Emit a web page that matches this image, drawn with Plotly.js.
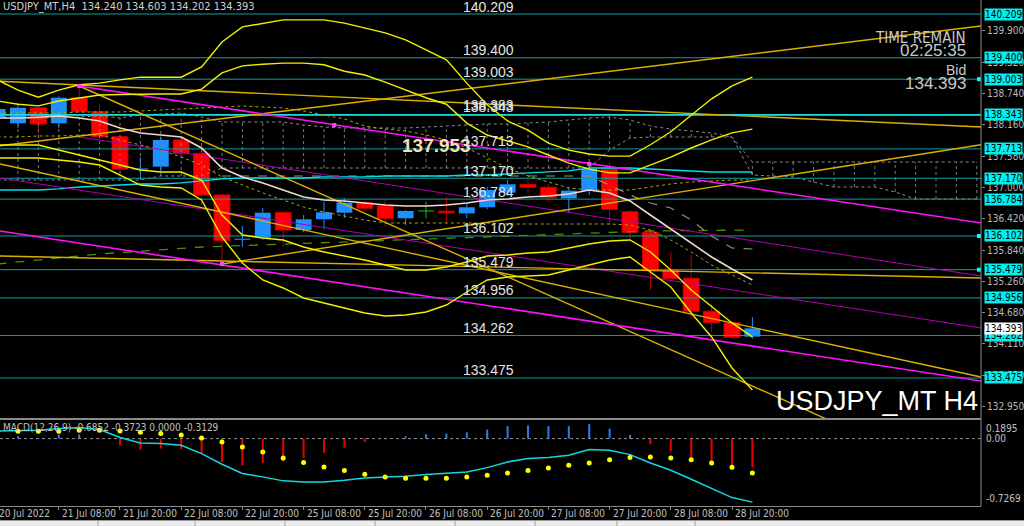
<!DOCTYPE html>
<html><head><meta charset="utf-8">
<script src="https://cdn.plot.ly/plotly-3.0.1.min.js"></script>
<style>html,body{margin:0;padding:0;background:#000;overflow:hidden}#chart{width:1024px;height:526px}</style>
</head><body><div id="chart"></div>
<script>
// ---------- DATA (H4 bars; bar index -1 = 20 Jul 20:00 ... 36 = 29 Jul 00:00) ----------
const open  = [138.29,138.187,138.475,138.187,138.660,138.401,137.939,137.341,137.384,137.878,137.632,136.860,136.041,136.070,136.533,136.213,136.411,136.533,136.718,136.657,136.429,136.564,136.560,136.520,136.633,136.903,137.058,137.003,136.799,136.940,137.341,136.550,136.170,135.473,135.320,134.709,134.498,134.240];
const high  = [138.50,138.56,138.50,138.69,138.84,138.544,137.96,137.563,137.94,137.94,137.70,136.897,136.287,136.620,136.56,136.49,136.736,136.805,136.75,136.768,136.58,136.736,136.829,136.707,137.014,137.138,137.151,137.058,137.014,137.434,137.458,136.583,136.20,135.811,135.75,134.843,134.54,134.603];
const low   = [138.22,138.10,138.007,138.10,138.37,137.90,137.30,137.138,137.291,137.60,136.675,135.565,135.904,136.03,135.904,136.17,136.226,136.435,136.56,136.274,136.305,136.43,136.337,136.429,136.60,136.842,136.89,136.736,136.533,136.86,136.305,136.041,135.103,135.25,134.579,134.331,134.19,134.202];
const close = [138.45,138.475,138.174,138.660,138.401,137.939,137.341,137.345,137.878,137.632,136.860,136.015,136.045,136.533,136.213,136.411,136.540,136.718,136.614,136.429,136.564,136.564,136.530,136.633,136.953,137.058,137.003,136.810,136.940,137.341,136.596,136.170,135.473,135.312,134.709,134.498,134.228,134.393];

const bbUpOuter = [138.99,138.80,138.67,138.80,138.90,138.93,138.99,139.04,139.04,139.04,139.23,139.69,139.97,140.04,140.10,140.10,140.10,140.04,139.95,139.86,139.73,139.54,139.36,138.93,138.53,138.23,138.06,137.82,137.69,137.62,137.58,137.58,137.79,138.03,138.34,138.64,138.88,139.04];
const bbUpInner = [138.60,138.54,138.51,138.60,138.655,138.71,138.72,138.73,138.73,138.73,138.82,139.12,139.25,139.28,139.30,139.30,139.27,139.15,139.08,138.95,138.80,138.66,138.54,138.19,137.97,137.86,137.75,137.60,137.45,137.34,137.27,137.27,137.42,137.56,137.73,137.88,138.01,138.08];
const bbLowInner = [137.785,137.785,137.785,137.693,137.60,137.508,137.415,137.323,137.286,137.286,137.138,136.49,136.12,136.065,136.028,135.898,135.806,135.732,135.658,135.565,135.473,135.473,135.528,135.62,135.732,135.75,135.788,135.806,135.88,135.954,136.01,136.028,135.806,135.473,135.103,134.789,134.493,134.234];
const bbLowOuter = [137.545,137.545,137.545,137.508,137.471,137.415,137.23,137.045,137.008,136.99,136.768,136.083,135.602,135.288,135.14,134.955,134.862,134.77,134.677,134.622,134.64,134.696,134.825,135.066,135.288,135.343,135.362,135.38,135.473,135.565,135.658,135.713,135.436,135.158,134.677,134.234,133.66,133.253];
const maPink = [138.285,138.285,138.30,138.322,138.285,138.23,138.10,138.008,137.97,137.934,137.73,137.36,137.194,137.083,136.953,136.824,136.768,136.75,136.713,136.676,136.657,136.657,136.676,136.713,136.768,136.787,136.824,136.842,136.879,136.953,136.898,136.75,136.49,136.232,135.973,135.713,135.491,135.288];
const cyanLine = [136.953,136.953,136.953,136.972,137.008,137.027,137.045,137.064,137.064,137.083,137.12,137.157,137.175,137.175,137.175,137.175,137.194,137.194,137.194,137.212,137.212,137.212,137.212,137.23,137.23,137.249,137.268,137.286,137.305,137.36,137.36,137.36,137.341,137.323,137.305,137.286,137.286,137.286];
const envUpper = [138.378,138.378,138.378,138.378,138.396,138.396,138.396,138.415,138.433,138.452,138.47,138.489,138.507,138.489,138.47,138.415,138.341,138.267,138.137,138.082,138.045,137.971,137.878,137.73,137.545,137.36,137.212,137.101,136.99,136.953,136.953,136.953,137.008,137.064,137.101,137.12,137.138,137.138];
const envLower = [137.934,137.934,137.952,137.952,137.971,137.971,137.878,137.785,137.693,137.563,137.415,137.194,137.045,136.898,136.768,136.639,136.546,136.472,136.398,136.342,136.342,136.342,136.342,136.342,136.342,136.324,136.324,136.324,136.324,136.324,136.324,136.305,136.213,136.028,135.806,135.565,135.38,135.195];
const tanStartBar = 10;
const tanDashed = [137.212,137.212,137.212,137.212,137.212,137.212,137.212,137.212,137.212,137.212,137.212,137.212,137.212,137.212,137.212,137.212,137.212,137.212,137.212,137.045,136.86,136.712,136.62,136.398,136.102,135.88,135.861];
const greenMaBars = [-1,4,9,16,22,31,36];
const greenMa = [135.584,135.769,135.898,135.991,136.083,136.194,136.213];
// ichimoku-style cloud, bar -1 .. 47
const cloudUpper = [138.285,138.285,138.285,138.285,138.303,138.322,138.285,138.340,138.359,138.377,138.303,138.211,138.211,138.211,138.211,138.155,138.118,138.100,138.100,138.100,138.100,138.118,138.137,138.155,138.174,138.174,138.192,138.211,138.248,138.285,138.303,138.248,138.137,138.081,138.044,138.007,137.933,137.471,137.471,137.471,137.471,137.471,137.471,137.471,137.471,137.471,137.471,137.471,137.471];
const cloudLower = [137.138,137.138,137.138,137.138,137.138,137.138,137.138,137.138,137.212,137.212,137.212,137.36,137.36,137.36,137.36,137.36,137.36,137.36,137.36,137.36,137.36,137.36,137.36,137.36,137.36,137.36,137.36,137.36,137.36,137.36,137.693,137.915,137.933,137.933,137.933,137.933,137.933,137.23,137.212,137.193,137.101,137.008,137.008,137.008,136.916,136.786,136.786,136.786,136.786];

// trend lines: start bar/price -> end bar/price
const goldRayBar0 = [-0.882,-0.882,10,-0.882,-0.882,3];
const goldRayP0   = [137.771,138.964,135.584,135.732,137.434,138.877];
const goldRayBar1 = [47.206,47.206,47.206,47.206,47.206,41];
const goldRayP1   = [139.987,138.118,137.789,135.325,133.493,132.485];
const magRayBar0 = [3,-0.882];
const magRayP0   = [138.877,136.194];
const magRayBar1 = [47.206,47.206];
const magRayP1   = [136.342,133.419];
const purpleRayBar0 = [3.04,-0.882];
const purpleRayP0   = [137.933,137.175];
const purpleRayBar1 = [47.206,47.206];
const purpleRayP1   = [135.362,134.400];
const anchorBars = [3,15.5,28,10];
const anchorPrices = [138.877,138.155,137.434,135.584];

const levels = [140.209,139.400,139.003,138.343,137.713,137.170,136.784,136.102,135.479,134.956,134.262,133.475];
const levelLabels = ['140.209','139.400','139.003','138.343','137.713','137.170','136.784','136.102','135.479','134.956','134.262','133.475'];
const extraLabelPrice = 138.383, extraLabel = '138.383';
const markedLevels = [139.003,136.102,135.479];
const bidPrice = 134.393;

const macdMain = [0.08,0.082,0.089,0.108,0.119,0.097,0.011,-0.047,-0.054,-0.072,-0.162,-0.277,-0.377,-0.413,-0.456,-0.467,-0.467,-0.449,-0.424,-0.413,-0.406,-0.388,-0.377,-0.360,-0.313,-0.252,-0.215,-0.205,-0.180,-0.119,-0.126,-0.173,-0.263,-0.342,-0.439,-0.539,-0.636,-0.6852];
const macdSignal = [0.079,0.079,0.079,0.079,0.090,0.090,0.082,0.068,0.054,0.039,0.006,-0.037,-0.091,-0.145,-0.209,-0.259,-0.306,-0.345,-0.385,-0.414,-0.428,-0.428,-0.428,-0.414,-0.396,-0.371,-0.345,-0.317,-0.288,-0.263,-0.227,-0.205,-0.198,-0.209,-0.227,-0.263,-0.310,-0.3723];
const macdHist = [0.0,0.025,0.005,0.045,0.045,-0.01,-0.072,-0.119,-0.108,-0.115,-0.162,-0.252,-0.288,-0.263,-0.245,-0.209,-0.155,-0.097,-0.036,-0.007,0.025,0.047,0.054,0.068,0.097,0.133,0.140,0.133,0.133,0.155,0.108,0.040,-0.061,-0.137,-0.252,-0.28,-0.31,-0.3129];

const timeTickBars = [2,5,8,11,14,17,20,23,26,29,32,35];
const timeTickLabels = ['21 Jul 08:00','21 Jul 20:00','22 Jul 08:00','22 Jul 20:00','25 Jul 08:00','25 Jul 20:00','26 Jul 08:00','26 Jul 20:00','27 Jul 08:00','27 Jul 20:00','28 Jul 08:00','28 Jul 20:00'];
const firstDateLabel = '20 Jul 2022';
const priceTicks = [139.900,139.320,138.740,138.160,137.580,137.000,136.420,135.840,135.260,134.680,134.110,133.530,132.950];
const macdTickVals = [0.1895,0.0,-0.7269];
const macdTickLabels = ['0.1895','0.00','-0.7269'];

// ---------- BUILD ----------
const NARROW = '"Liberation Sans Narrow","Arial Narrow","DejaVu Sans Condensed",sans-serif';
const SANS = '"Liberation Sans",Arial,sans-serif';
const XMIN = -0.882, XMAX = 47.206;
const bars = open.map((_, i) => i - 1);
const cloudBars = cloudUpper.map((_, i) => i - 1);
const HALF = 0.39;

const BULL = '#1e90ff', BEAR = '#ff0000', BEARW = '#b80000', DOJI = '#10c010';
const traces = [];

const bullX=[],bullB=[],bullH=[],bearX=[],bearB=[],bearH=[];
bars.forEach((k,i)=>{
  const o=open[i], c=close[i];
  if (Math.abs(c-o) < 0.01) return;
  if (c>o){bullX.push(k);bullB.push(o);bullH.push(c-o);} else {bearX.push(k);bearB.push(c);bearH.push(o-c);}
});
traces.push({type:'bar',x:bullX,y:bullH,base:bullB,width:0.78,marker:{color:BULL,line:{width:0}},xaxis:'x',yaxis:'y',hoverinfo:'skip'});
traces.push({type:'bar',x:bearX,y:bearH,base:bearB,width:0.78,marker:{color:BEAR,line:{color:'#d00000',width:1}},xaxis:'x',yaxis:'y',hoverinfo:'skip'});
function wickTrace(filter,color){
  const xs=[],ys=[];
  bars.forEach((k,i)=>{
    if(!filter(i))return;
    const top=Math.max(open[i],close[i]),bot=Math.min(open[i],close[i]);
    xs.push(k,k,null,k,k,null);ys.push(high[i],top,null,bot,low[i],null);
    if(Math.abs(close[i]-open[i])<0.01){xs.push(k-HALF,k+HALF,null);ys.push(open[i],open[i],null);}
  });
  return {type:'scatter',mode:'lines',x:xs,y:ys,line:{color:color,width:1},hoverinfo:'skip'};
}
traces.push(wickTrace(i=>close[i]>open[i],BULL));
traces.push(wickTrace(i=>close[i]<open[i],BEARW));
traces.push(wickTrace(i=>close[i]===open[i],DOJI));

function line(xs,ys,color,width,dash,ya){
  return {type:'scatter',mode:'lines',x:xs,y:ys,line:{color:color,width:width,dash:dash||'solid'},yaxis:ya||'y',hoverinfo:'skip'};
}
const hx=[],hy=[];
cloudBars.forEach((k,i)=>{hx.push(k,k,null);hy.push(cloudLower[i],cloudUpper[i],null);});
traces.push(line(hx,hy,'#7a7a7a',1,'dot'));
traces.push(line(cloudBars,cloudUpper,'#8a8a8a',1,'dot'));
traces.push(line(cloudBars,cloudLower,'#8a8a8a',1,'dot'));

const lx=[],ly=[];
levels.forEach(v=>{lx.push(XMIN,XMAX,null);ly.push(v,v,null);});
traces.push(line(lx,ly,'#139e9e',1));
traces.push(line([XMIN,XMAX],[levels[3],levels[3]],'#18d8d8',1.6));

traces.push(line(bars,envUpper,'#a8a800',1,'dot'));
traces.push(line(bars,envLower,'#a8a800',1,'dot'));
traces.push(line(greenMaBars,greenMa,'#4f8f00',1.3,'dash'));
traces.push(line(tanDashed.map((_,i)=>i+tanStartBar),tanDashed,'#a08a78',1.2,'dash'));
traces.push(line(bars,cyanLine,'#00e0e8',1.3));

function rays(b0,p0,b1,p1,color,width){
  const xs=[],ys=[];
  b0.forEach((_,i)=>{xs.push(b0[i],b1[i],null);ys.push(p0[i],p1[i],null);});
  return line(xs,ys,color,width);
}
traces.push(rays(purpleRayBar0,purpleRayP0,purpleRayBar1,purpleRayP1,'#b000b0',1));
traces.push(rays(goldRayBar0,goldRayP0,goldRayBar1,goldRayP1,'#dcb000',1.4));
traces.push(rays(magRayBar0,magRayP0,magRayBar1,magRayP1,'#ff10ff',1.6));

[bbUpOuter,bbUpInner,bbLowInner,bbLowOuter].forEach(a=>traces.push(line(bars,a,'#f0f000',1.4)));
traces.push(line(bars,maPink,'#f2d8cc',1.6));

traces.push({type:'scatter',mode:'markers',x:anchorBars,y:anchorPrices,marker:{symbol:'square',size:4,color:'#ff40ff'},hoverinfo:'skip'});
traces.push({type:'scatter',mode:'markers',x:markedLevels.map(()=>XMAX-0.1),y:markedLevels,marker:{symbol:'square',size:4,color:'#00ffff'},hoverinfo:'skip'});

const hp=[],hpx=[],hn=[],hnx=[];
bars.forEach((k,i)=>{ if(macdHist[i]>=0){hpx.push(k);hp.push(macdHist[i]);} else {hnx.push(k);hn.push(macdHist[i]);} });
traces.push({type:'bar',x:hpx,y:hp,width:0.1,marker:{color:'#2080f0',line:{width:0}},yaxis:'y2',hoverinfo:'skip'});
traces.push({type:'bar',x:hnx,y:hn,width:0.1,marker:{color:'#e80000',line:{width:0}},yaxis:'y2',hoverinfo:'skip'});
traces.push(line([XMIN,XMAX],[0,0],'#909090',1,'dot','y2'));
traces.push(line(bars,macdMain,'#10d8e0',1.5,'solid','y2'));
traces.push({type:'scatter',mode:'markers',x:bars,y:macdSignal,marker:{size:5,color:'#ffff00'},yaxis:'y2',hoverinfo:'skip'});

// ---------- ANNOTATIONS ----------
const H = 506, W = 981;
const px = x => x / W, py = y => (H - y) / H;
const ann = [];
function txt(x,y,text,size,color,family,xanchor,extra){ann.push(Object.assign({xref:'paper',yref:'paper',x:x,y:y,text:text,showarrow:false,xanchor:xanchor||'left',yanchor:'middle',font:{size:size,color:color,family:family}},extra||{}));}
txt(px(1),py(6),'USDJPY_MT,H4\u00a0\u00a0134.240 134.603 134.202 134.393',11,'#d0d0d0',NARROW,'left');
txt(px(1),py(427),'MACD(12,26,9) -0.6852 -0.3723 0.0000 -0.3129',10,'#c0c0c0',NARROW,'left');
levels.forEach((v,i)=>ann.push({xref:'paper',yref:'y',x:px(488),y:v,yshift:7.5,text:levelLabels[i],showarrow:false,xanchor:'center',yanchor:'middle',font:{size:14,color:'#e4e4e4',family:SANS}}));
ann.push({xref:'paper',yref:'y',x:px(488),y:extraLabelPrice,yshift:7.5,text:extraLabel,showarrow:false,xanchor:'center',yanchor:'middle',font:{size:14,color:'#e4e4e4',family:SANS}});
txt(px(436),py(145),'<b>137.953</b>',19,'#f5deb3',SANS,'center');
txt(px(968),py(38),'TIME REMAIN',15,'#c8c8c8',NARROW,'right');
txt(px(968),py(51),'02:25:35',17,'#c8c8c8',SANS,'right');
txt(px(968),py(70),'Bid',14,'#c8c8c8',SANS,'right');
txt(px(968),py(83),'134.393',17,'#c8c8c8',SANS,'right');
txt(px(980),py(401),'USDJPY_MT H4',27,'#ffffff',SANS,'right');
levels.forEach((v,i)=>ann.push({xref:'paper',yref:'y',x:1,xshift:3,y:v,text:levelLabels[i],showarrow:false,xanchor:'left',yanchor:'middle',bgcolor:'#00f0f0',borderpad:0,font:{size:10,color:'#000',family:NARROW}}));
ann.push({xref:'paper',yref:'y',x:1,xshift:3,y:bidPrice,text:bidPrice.toFixed(3),showarrow:false,xanchor:'left',yanchor:'middle',bgcolor:'#ffffff',borderpad:0,font:{size:10,color:'#000',family:NARROW}});
macdTickVals.forEach((v,i)=>ann.push({xref:'paper',yref:'y2',x:1,xshift:3,y:v,text:macdTickLabels[i],showarrow:false,xanchor:'left',yanchor:i===0?'top':(i===2?'bottom':'middle'),font:{size:10,color:'#c0c0c0',family:NARROW}}));
ann.push({xref:'paper',yref:'paper',x:0,xshift:-3,y:py(513),text:firstDateLabel,showarrow:false,xanchor:'left',yanchor:'middle',font:{size:10,color:'#c0c0c0',family:NARROW}});
timeTickBars.forEach((b,i)=>ann.push({xref:'x',yref:'paper',x:b,xshift:1,y:py(513),text:timeTickLabels[i],showarrow:false,xanchor:'left',yanchor:'middle',font:{size:10,color:'#c0c0c0',family:NARROW}}));

// ---------- SHAPES (frame) ----------
const shapes = [
  {type:'line',xref:'paper',yref:'paper',x0:0,x1:1,y0:py(419),y1:py(419),line:{color:'#8a8a8a',width:2}},
  {type:'line',xref:'paper',yref:'paper',x0:1,x1:1,y0:0,y1:1,line:{color:'#8a8a8a',width:1}},
  {type:'rect',xref:'paper',yref:'paper',x0:0,x1:1024/W,y0:py(520),y1:py(527),fillcolor:'#ececec',line:{width:0}},
  {type:'line',xref:'paper',yref:'paper',x0:0,x1:1024/W,y0:py(520.5),y1:py(520.5),line:{color:'#9a9a9a',width:1}}
];
[98,195,285,375,455,535,617,695].forEach(x=>shapes.push({type:'line',xref:'paper',yref:'paper',x0:px(x),x1:px(x),y0:py(521),y1:py(527),line:{color:'#a0a0a0',width:1}}));

const layout = {
  width:1024,height:526,margin:{l:0,r:43,t:0,b:20,pad:0},
  paper_bgcolor:'#000',plot_bgcolor:'#000',showlegend:false,hovermode:false,barmode:'overlay',
  xaxis:{range:[XMIN,XMAX],anchor:'y2',showgrid:false,zeroline:false,showline:true,linecolor:'#8a8a8a',linewidth:1,
    tickvals:timeTickBars,ticks:'outside',ticklen:3,tickcolor:'#8a8a8a',showticklabels:false,fixedrange:true},
  yaxis:{domain:[py(419),1],range:[132.716,140.468],side:'right',showgrid:false,zeroline:false,showline:false,
    tickvals:priceTicks,ticktext:priceTicks.map(v=>v.toFixed(3)),ticks:'outside',ticklen:3,tickcolor:'#8a8a8a',
    tickfont:{size:10,color:'#b8b8b8',family:NARROW},fixedrange:true},
  yaxis2:{domain:[0,py(421)],range:[-0.7269,0.1895],side:'right',showgrid:false,zeroline:false,showline:false,showticklabels:false,ticks:'',fixedrange:true},
  annotations:ann,shapes:shapes
};
Plotly.newPlot('chart',traces,layout,{staticPlot:true,displayModeBar:false});
</script></body></html>
